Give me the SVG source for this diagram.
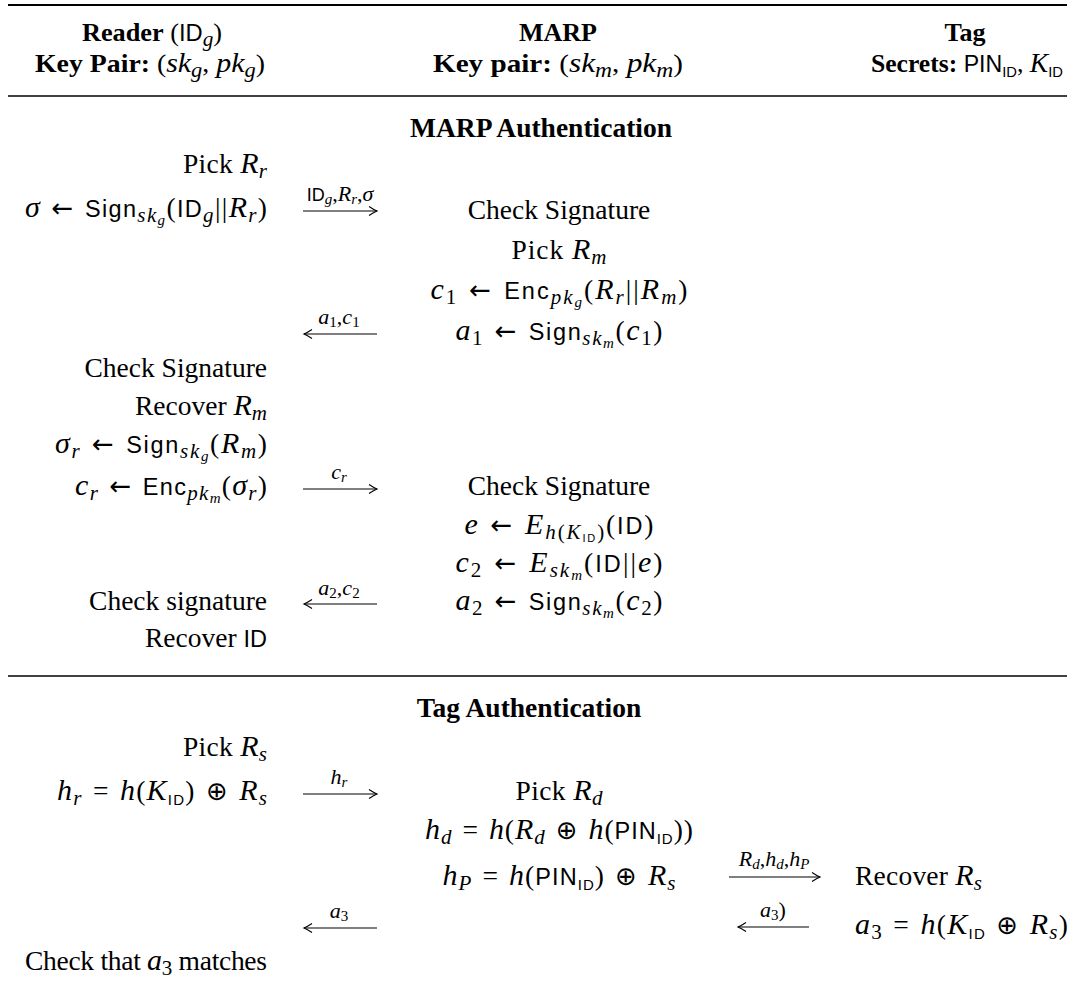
<svg xmlns="http://www.w3.org/2000/svg" width="1075" height="985" viewBox="0 0 1075 985">
<defs>
<style>
text{font-family:"Liberation Serif","DejaVu Serif",serif;font-size:27.5px;fill:#000}
.b{font-weight:bold}
.it{font-style:italic}
.i{font-style:italic;font-size:30px}
.s{font-family:"Liberation Sans","DejaVu Sans",sans-serif;font-style:normal;font-size:23.5px}
.op{font-family:"DejaVu Sans",sans-serif;font-size:26px}
.sp{font-size:36px}
.sb{font-size:21px;baseline-shift:-5px}
.sid{font-family:"Liberation Sans","DejaVu Sans",sans-serif;font-style:normal;font-size:15px;baseline-shift:-5px}
.ssb{font-size:15px;baseline-shift:-3px}
.ssid{font-family:"Liberation Sans","DejaVu Sans",sans-serif;font-style:normal;font-size:11px;baseline-shift:-3px}
.hd{font-size:26px}
.hd .i{font-size:28px}
text.lab{font-size:22px}
.lab .s{font-size:18px}
.lsb{font-size:15px;baseline-shift:-3px}
.rule{stroke:#000;stroke-width:1.3}
.arr{stroke:#000;stroke-width:1.1;fill:none;marker-end:url(#ah)}
</style>
<marker id="ah" markerUnits="userSpaceOnUse" viewBox="-10 -6 12 12" refX="0" refY="0" markerWidth="12" markerHeight="12" orient="auto" overflow="visible">
<path d="M-8,-4.5 Q-3,-1.2 0,0 Q-3,1.2 -8,4.5" fill="none" stroke="#000" stroke-width="1.1"/>
</marker>
</defs>
<rect width="1075" height="985" fill="#fff"/>
<g id="rules">
<line x1="8" y1="5" x2="1067" y2="5" stroke="#000" stroke-width="2"/>
<line class="rule" x1="8" y1="96" x2="1067" y2="96"/>
<line class="rule" x1="8" y1="676" x2="1067" y2="676"/>
</g>
<g id="header-reader" text-anchor="middle">
<text class="hd" x="152" y="41" textLength="140" lengthAdjust="spacingAndGlyphs"><tspan class="b">Reader</tspan> (<tspan class="s">ID</tspan><tspan class="it sb">g</tspan>)</text>
<text class="hd" x="150" y="72" textLength="230" lengthAdjust="spacingAndGlyphs"><tspan class="b">Key Pair:</tspan> (<tspan class="i">sk</tspan><tspan class="it sb">g</tspan>, <tspan class="i">pk</tspan><tspan class="it sb">g</tspan>)</text>
</g>
<g id="header-marp" text-anchor="middle">
<text class="hd b" x="558" y="41">MARP</text>
<text class="hd" x="558" y="72" textLength="250" lengthAdjust="spacingAndGlyphs"><tspan class="b">Key pair:</tspan> (<tspan class="i">sk</tspan><tspan class="it sb">m</tspan>, <tspan class="i">pk</tspan><tspan class="it sb">m</tspan>)</text>
</g>
<g id="header-tag" text-anchor="middle">
<text class="hd b" x="965" y="41">Tag</text>
<text class="hd" x="967" y="72" textLength="192" lengthAdjust="spacingAndGlyphs"><tspan class="b">Secrets:</tspan> <tspan class="s">PIN</tspan><tspan class="sid">ID</tspan>, <tspan class="i">K</tspan><tspan class="sid">ID</tspan></text>
</g>
<g id="section-titles" text-anchor="middle">
<text x="541" y="137" class="b">MARP Authentication</text>
<text x="529" y="717" class="b">Tag Authentication</text>
</g>
<g id="reader" text-anchor="end">
<text x="267" y="173" textLength="84">Pick <tspan class="i">R</tspan><tspan class="it sb">r</tspan></text>
<text x="267" y="217" textLength="242"><tspan class="i">σ</tspan><tspan class="sp"> </tspan><tspan class="op">←</tspan><tspan class="sp"> </tspan><tspan class="s">Sign</tspan><tspan class="sb"><tspan class="it">sk</tspan><tspan class="it ssb">g</tspan></tspan>(<tspan class="s">ID</tspan><tspan class="it sb">g</tspan>||<tspan class="i">R</tspan><tspan class="it sb">r</tspan>)</text>
<text x="267" y="377">Check Signature</text>
<text x="267" y="415" textLength="132">Recover <tspan class="i">R</tspan><tspan class="it sb">m</tspan></text>
<text x="267" y="453" textLength="212"><tspan class="i">σ</tspan><tspan class="it sb">r</tspan><tspan class="sp"> </tspan><tspan class="op">←</tspan><tspan class="sp"> </tspan><tspan class="s">Sign</tspan><tspan class="sb"><tspan class="it">sk</tspan><tspan class="it ssb">g</tspan></tspan>(<tspan class="i">R</tspan><tspan class="it sb">m</tspan>)</text>
<text x="267" y="495" textLength="192"><tspan class="i">c</tspan><tspan class="it sb">r</tspan><tspan class="sp"> </tspan><tspan class="op">←</tspan><tspan class="sp"> </tspan><tspan class="s">Enc</tspan><tspan class="sb"><tspan class="it">pk</tspan><tspan class="it ssb">m</tspan></tspan>(<tspan class="i">σ</tspan><tspan class="it sb">r</tspan>)</text>
<text x="267" y="610">Check signature</text>
<text x="267" y="647">Recover <tspan class="s">ID</tspan></text>
<text x="267" y="756" textLength="84">Pick <tspan class="i">R</tspan><tspan class="it sb">s</tspan></text>
<text x="267" y="800" textLength="210"><tspan class="i">h</tspan><tspan class="it sb">r</tspan><tspan class="sp"> </tspan>=<tspan class="sp"> </tspan><tspan class="i">h</tspan>(<tspan class="i">K</tspan><tspan class="sid">ID</tspan>)<tspan class="sp"> </tspan><tspan class="op">⊕</tspan><tspan class="sp"> </tspan><tspan class="i">R</tspan><tspan class="it sb">s</tspan></text>
<text x="267" y="970" textLength="242">Check that <tspan class="i">a</tspan><tspan class="sb">3</tspan> matches</text>
</g>
<g id="marp" text-anchor="middle">
<text x="559" y="219">Check Signature</text>
<text x="559" y="259" textLength="95">Pick <tspan class="i">R</tspan><tspan class="it sb">m</tspan></text>
<text x="559" y="299" textLength="257"><tspan class="i">c</tspan><tspan class="sb">1</tspan><tspan class="sp"> </tspan><tspan class="op">←</tspan><tspan class="sp"> </tspan><tspan class="s">Enc</tspan><tspan class="sb"><tspan class="it">pk</tspan><tspan class="it ssb">g</tspan></tspan>(<tspan class="i">R</tspan><tspan class="it sb">r</tspan>||<tspan class="i">R</tspan><tspan class="it sb">m</tspan>)</text>
<text x="559" y="340" textLength="207"><tspan class="i">a</tspan><tspan class="sb">1</tspan><tspan class="sp"> </tspan><tspan class="op">←</tspan><tspan class="sp"> </tspan><tspan class="s">Sign</tspan><tspan class="sb"><tspan class="it">sk</tspan><tspan class="it ssb">m</tspan></tspan>(<tspan class="i">c</tspan><tspan class="sb">1</tspan>)</text>
<text x="559" y="495">Check Signature</text>
<text x="559" y="534" textLength="189"><tspan class="i">e</tspan><tspan class="sp"> </tspan><tspan class="op">←</tspan><tspan class="sp"> </tspan><tspan class="i">E</tspan><tspan class="sb"><tspan class="it">h</tspan>(<tspan class="it">K</tspan><tspan class="ssid">ID</tspan>)</tspan>(<tspan class="s">ID</tspan>)</text>
<text x="559" y="572" textLength="207"><tspan class="i">c</tspan><tspan class="sb">2</tspan><tspan class="sp"> </tspan><tspan class="op">←</tspan><tspan class="sp"> </tspan><tspan class="i">E</tspan><tspan class="sb"><tspan class="it">sk</tspan><tspan class="it ssb">m</tspan></tspan>(<tspan class="s">ID</tspan>||<tspan class="i">e</tspan>)</text>
<text x="559" y="610" textLength="207"><tspan class="i">a</tspan><tspan class="sb">2</tspan><tspan class="sp"> </tspan><tspan class="op">←</tspan><tspan class="sp"> </tspan><tspan class="s">Sign</tspan><tspan class="sb"><tspan class="it">sk</tspan><tspan class="it ssb">m</tspan></tspan>(<tspan class="i">c</tspan><tspan class="sb">2</tspan>)</text>
<text x="559" y="800" textLength="87">Pick <tspan class="i">R</tspan><tspan class="it sb">d</tspan></text>
<text x="559" y="839" textLength="268"><tspan class="i">h</tspan><tspan class="it sb">d</tspan><tspan class="sp"> </tspan>=<tspan class="sp"> </tspan><tspan class="i">h</tspan>(<tspan class="i">R</tspan><tspan class="it sb">d</tspan><tspan class="sp"> </tspan><tspan class="op">⊕</tspan><tspan class="sp"> </tspan><tspan class="i">h</tspan>(<tspan class="s">PIN</tspan><tspan class="sid">ID</tspan>))</text>
<text x="559" y="885" textLength="233"><tspan class="i">h</tspan><tspan class="it sb">P</tspan><tspan class="sp"> </tspan>=<tspan class="sp"> </tspan><tspan class="i">h</tspan>(<tspan class="s">PIN</tspan><tspan class="sid">ID</tspan>)<tspan class="sp"> </tspan><tspan class="op">⊕</tspan><tspan class="sp"> </tspan><tspan class="i">R</tspan><tspan class="it sb">s</tspan></text>
</g>
<g id="tag" text-anchor="start">
<text x="855" y="885" textLength="127">Recover <tspan class="i">R</tspan><tspan class="it sb">s</tspan></text>
<text x="855" y="934" textLength="213"><tspan class="i">a</tspan><tspan class="sb">3</tspan><tspan class="sp"> </tspan>=<tspan class="sp"> </tspan><tspan class="i">h</tspan>(<tspan class="i">K</tspan><tspan class="sid">ID</tspan><tspan class="sp"> </tspan><tspan class="op">⊕</tspan><tspan class="sp"> </tspan><tspan class="i">R</tspan><tspan class="it sb">s</tspan>)</text>
</g>
<g id="connectors">
<line class="arr" x1="303" y1="211" x2="377" y2="211"/>
<line class="arr" x1="377" y1="334" x2="304" y2="334"/>
<line class="arr" x1="303" y1="489" x2="377" y2="489"/>
<line class="arr" x1="377" y1="604" x2="304" y2="604"/>
<line class="arr" x1="303" y1="794" x2="377" y2="794"/>
<line class="arr" x1="377" y1="928" x2="304" y2="928"/>
<line class="arr" x1="729" y1="877" x2="820" y2="877"/>
<line class="arr" x1="809" y1="927" x2="738" y2="927"/>
<g text-anchor="middle">
<text class="lab" x="340" y="201"><tspan class="s">ID</tspan><tspan class="it lsb">g</tspan>,<tspan class="it">R</tspan><tspan class="it lsb">r</tspan>,<tspan class="it">σ</tspan></text>
<text class="lab" x="339" y="324"><tspan class="it">a</tspan><tspan class="lsb">1</tspan>,<tspan class="it">c</tspan><tspan class="lsb">1</tspan></text>
<text class="lab" x="339" y="479"><tspan class="it">c</tspan><tspan class="it lsb">r</tspan></text>
<text class="lab" x="339" y="595"><tspan class="it">a</tspan><tspan class="lsb">2</tspan>,<tspan class="it">c</tspan><tspan class="lsb">2</tspan></text>
<text class="lab" x="339" y="784"><tspan class="it">h</tspan><tspan class="it lsb">r</tspan></text>
<text class="lab" x="339" y="918"><tspan class="it">a</tspan><tspan class="lsb">3</tspan></text>
<text class="lab" x="774" y="866"><tspan class="it">R</tspan><tspan class="it lsb">d</tspan>,<tspan class="it">h</tspan><tspan class="it lsb">d</tspan>,<tspan class="it">h</tspan><tspan class="it lsb">P</tspan></text>
<text class="lab" x="773" y="917"><tspan class="it">a</tspan><tspan class="lsb">3</tspan>)</text>
</g>
</g>
</svg>
